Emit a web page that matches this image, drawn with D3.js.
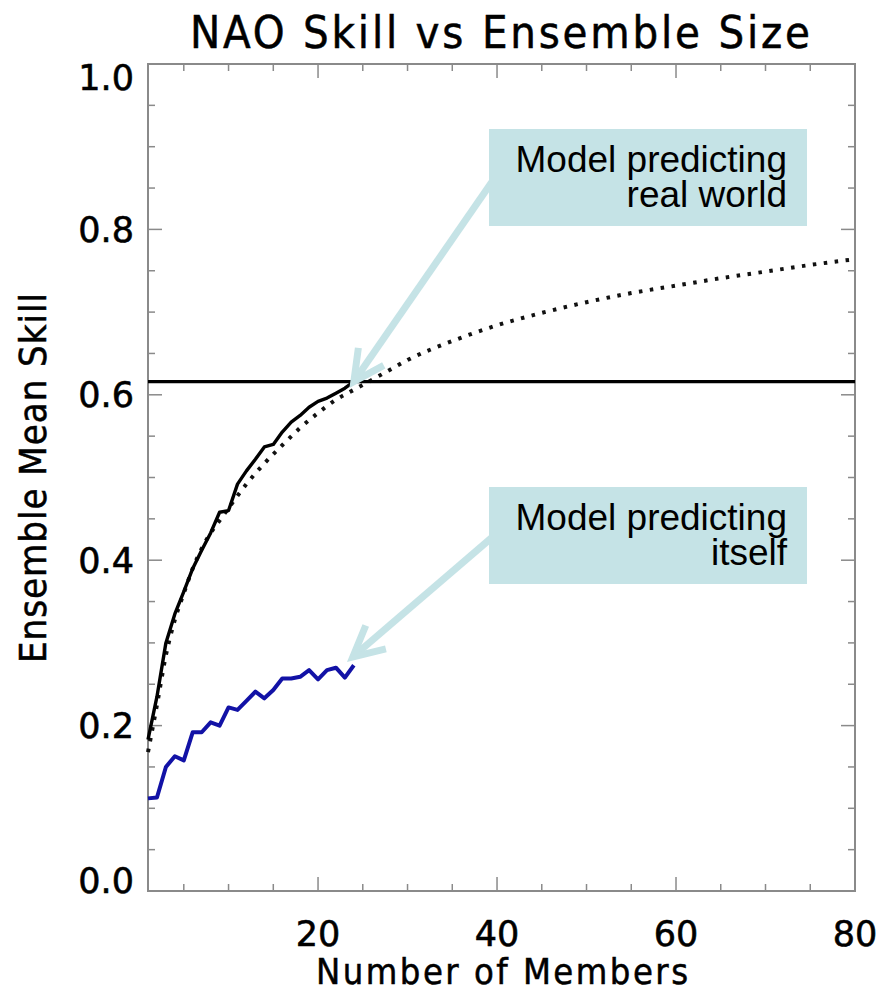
<!DOCTYPE html>
<html>
<head>
<meta charset="utf-8">
<script src="https://cdn.jsdelivr.net/npm/d3@7"></script>
<style>
  body { margin: 0; background: #fff; }
  text { font-family: "DejaVu Sans", sans-serif; fill: #000; }
  .axis-title { font-family: "DejaVu Sans Condensed", "DejaVu Sans", sans-serif; stroke: #000; stroke-width: 0.5; }
  .tick-label { stroke: #000; stroke-width: 0.6; }
  .note { font-family: "Liberation Sans", Arial, sans-serif; }
</style>
</head>
<body>
<div id="chart"></div>
<script>
// --- data ---
// ensemble mean skill vs number of members, model predicting the real world (solid black)
let realMembers = [1, 2, 3, 4, 5, 6, 7, 8, 9, 10, 11, 12, 13, 14, 15, 16, 17, 18, 19, 20, 21, 22, 23, 24];
let realSkill = [0.183, 0.235, 0.300, 0.335, 0.362, 0.390, 0.412, 0.433, 0.458, 0.460, 0.492, 0.508,
                 0.522, 0.537, 0.540, 0.555, 0.567, 0.575, 0.585, 0.592, 0.596, 0.602, 0.608, 0.616];

// model predicting itself (blue)
let selfMembers = [1, 2, 3, 4, 5, 6, 7, 8, 9, 10, 11, 12, 13, 14, 15, 16, 17, 18, 19, 20, 21, 22, 23, 24];
let selfSkill = [0.112, 0.113, 0.150, 0.163, 0.158, 0.192, 0.192, 0.204, 0.200, 0.222, 0.219, 0.230,
                 0.241, 0.233, 0.243, 0.257, 0.257, 0.259, 0.267, 0.256, 0.267, 0.270, 0.258, 0.273];

// expected skill curve (dotted)
let fitMembers = [1, 2, 3, 4, 5, 6, 7, 8, 9, 10, 12, 14, 16, 18, 20, 22, 24, 26, 28, 30,
                  35, 40, 45, 50, 55, 60, 65, 70, 75, 80];
let fitSkill = [0.168, 0.225, 0.285, 0.328, 0.360, 0.390, 0.414, 0.433, 0.448, 0.463, 0.492, 0.517,
                0.539, 0.560, 0.578, 0.594, 0.606, 0.618, 0.630, 0.642, 0.665, 0.684, 0.699, 0.712,
                0.723, 0.732, 0.741, 0.749, 0.757, 0.764];

// observed skill (horizontal line)
let obsSkill = 0.616;

let xMajorTicks = [20, 40, 60, 80];
let xMinorTicks = [5, 10, 15, 25, 30, 35, 45, 50, 55, 65, 70, 75];
let yMajorTicks = [0.0, 0.2, 0.4, 0.6, 0.8, 1.0];
let yMinorTicks = [0.05, 0.1, 0.15, 0.25, 0.3, 0.35, 0.45, 0.5, 0.55, 0.65, 0.7, 0.75, 0.85, 0.9, 0.95];

let noteLines = [["Model predicting", "real world"], ["Model predicting", "itself"]];

// --- layout ---
const width = 881, height = 994;
const plot = { left: 148, right: 855, top: 64, bottom: 891 };

let svg = d3.select("#chart").append("svg")
    .attr("width", width)
    .attr("height", height);

let x = d3.scaleLinear().domain([1, 80]).range([plot.left, plot.right]);
let y = d3.scaleLinear().domain([0, 1]).range([plot.bottom, plot.top]);

// frame
svg.append("rect")
    .attr("x", plot.left).attr("y", plot.top)
    .attr("width", plot.right - plot.left).attr("height", plot.bottom - plot.top)
    .attr("fill", "none")
    .attr("stroke", "#8a8a8a")
    .attr("stroke-width", 2);

// ticks on all four sides, pointing inward
let tickG = svg.append("g").attr("stroke", "#8a8a8a").attr("stroke-width", 1.5);
function xTicks(vals, len) {
  vals.forEach(v => {
    tickG.append("line").attr("x1", x(v)).attr("x2", x(v)).attr("y1", plot.bottom).attr("y2", plot.bottom - len);
    tickG.append("line").attr("x1", x(v)).attr("x2", x(v)).attr("y1", plot.top).attr("y2", plot.top + len);
  });
}
function yTicks(vals, len) {
  vals.forEach(v => {
    tickG.append("line").attr("y1", y(v)).attr("y2", y(v)).attr("x1", plot.left).attr("x2", plot.left + len);
    tickG.append("line").attr("y1", y(v)).attr("y2", y(v)).attr("x1", plot.right).attr("x2", plot.right - len);
  });
}
xTicks(xMajorTicks, 14);
xTicks(xMinorTicks, 7);
yTicks(yMajorTicks, 14);
yTicks(yMinorTicks, 7);

// tick labels
svg.append("g").selectAll("text").data(xMajorTicks).enter()
    .append("text")
    .attr("class", "tick-label")
    .attr("x", d => x(d))
    .attr("y", 946)
    .attr("text-anchor", "middle")
    .style("font-size", "35px")
    .text(d => d);

svg.append("g").selectAll("text").data(yMajorTicks).enter()
    .append("text")
    .attr("class", "tick-label")
    .attr("x", 134)
    // end labels sit a little inside the frame, as in the original
    .attr("y", d => y(d) + (d === 1 ? 13 : d === 0 ? -11 : 0))
    .attr("dy", "0.36em")
    .attr("text-anchor", "end")
    .style("font-size", "35px")
    .text(d => d.toFixed(1));

// titles
svg.append("text")
    .attr("class", "axis-title")
    .attr("x", 500).attr("y", 48)
    .attr("text-anchor", "middle")
    .attr("textLength", 620).attr("lengthAdjust", "spacing")
    .style("font-size", "45px")
    .text("NAO Skill vs Ensemble Size");

svg.append("text")
    .attr("class", "axis-title")
    .attr("x", 502).attr("y", 984)
    .attr("text-anchor", "middle")
    .attr("textLength", 372).attr("lengthAdjust", "spacing")
    .style("font-size", "36px")
    .text("Number of Members");

svg.append("text")
    .attr("class", "axis-title")
    .attr("transform", "translate(46, 478) rotate(-90)")
    .attr("text-anchor", "middle")
    .attr("textLength", 370).attr("lengthAdjust", "spacing")
    .style("font-size", "38px")
    .text("Ensemble Mean Skill");

// lines
let line = d3.line().x(d => x(d[0])).y(d => y(d[1]));

svg.append("path")
    .datum(fitMembers.map((m, i) => [m, fitSkill[i]]))
    .attr("d", line.curve(d3.curveMonotoneX))
    .attr("fill", "none")
    .attr("stroke", "#111")
    .attr("stroke-width", 4)
    .attr("stroke-dasharray", "3.5,7.5");

line.curve(d3.curveLinear);

svg.append("path")
    .datum([[1, obsSkill], [80, obsSkill]])
    .attr("d", line)
    .attr("fill", "none")
    .attr("stroke", "#000")
    .attr("stroke-width", 3.2);

svg.append("path")
    .datum(realMembers.map((m, i) => [m, realSkill[i]]))
    .attr("d", line)
    .attr("fill", "none")
    .attr("stroke", "#000")
    .attr("stroke-width", 3.4)
    .attr("stroke-linejoin", "round");

svg.append("path")
    .datum(selfMembers.map((m, i) => [m, selfSkill[i]]))
    .attr("d", line)
    .attr("fill", "none")
    .attr("stroke", "#1212a6")
    .attr("stroke-width", 4)
    .attr("stroke-linejoin", "round");

// annotations: arrow from box to the end of each curve
const noteColor = "#c5e3e6";
let notes = [
  { box: [489, 129], from: [496, 176], tip: [x(24), y(obsSkill)], lines: noteLines[0] },
  { box: [489, 487], from: [496, 534], tip: [x(24) - 1, y(0.283)], lines: noteLines[1] }
];

notes.forEach(n => {
  let g = svg.append("g");
  let dx = n.from[0] - n.tip[0], dy = n.from[1] - n.tip[1];
  let ang = Math.atan2(dy, dx), arm = 34, spread = 27 * Math.PI / 180;
  let a1 = [n.tip[0] + arm * Math.cos(ang - spread), n.tip[1] + arm * Math.sin(ang - spread)];
  let a2 = [n.tip[0] + arm * Math.cos(ang + spread), n.tip[1] + arm * Math.sin(ang + spread)];
  g.append("line")
      .attr("x1", n.from[0]).attr("y1", n.from[1])
      .attr("x2", n.tip[0]).attr("y2", n.tip[1])
      .attr("stroke", noteColor).attr("stroke-width", 7);
  g.append("path")
      .attr("d", `M${a1[0]},${a1[1]}L${n.tip[0]},${n.tip[1]}L${a2[0]},${a2[1]}`)
      .attr("fill", "none")
      .attr("stroke", noteColor).attr("stroke-width", 7)
      .attr("stroke-linejoin", "miter");
  g.append("rect")
      .attr("x", n.box[0]).attr("y", n.box[1])
      .attr("width", 318).attr("height", 97)
      .attr("fill", noteColor);
  n.lines.forEach((t, i) => {
    g.append("text")
        .attr("class", "note")
        .attr("x", n.box[0] + 298)
        .attr("y", n.box[1] + 43 + i * 35)
        .attr("text-anchor", "end")
        .style("font-size", "37px")
        .text(t);
  });
});
</script>
</body>
</html>
